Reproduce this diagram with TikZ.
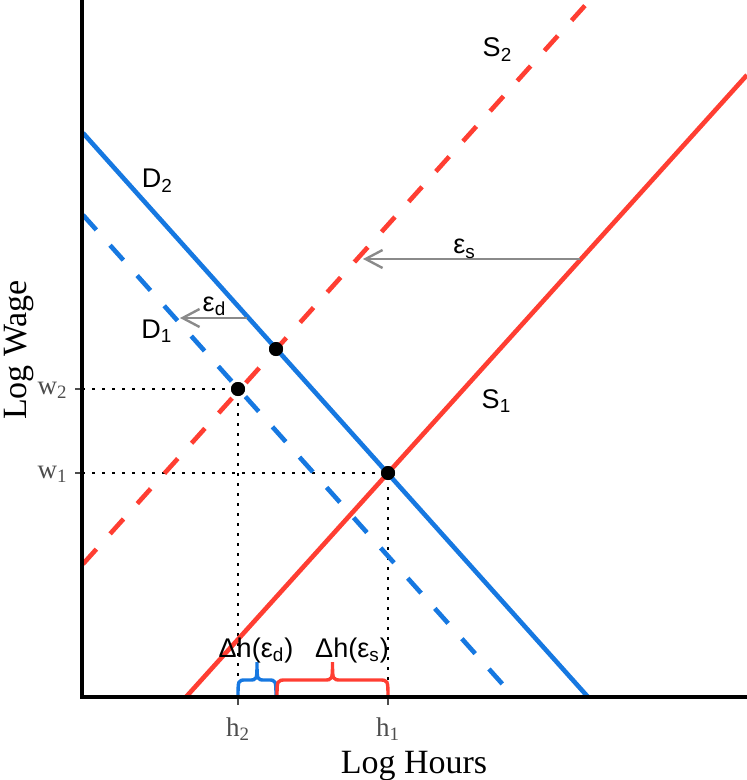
\documentclass[tikz,border=0pt]{standalone}
\usepackage{fontspec}
\setmainfont{Liberation Serif}
\setsansfont{Liberation Sans}
\usepackage{xcolor}
\usepackage{tikz}
\usetikzlibrary{arrows.meta, positioning, calc}

\definecolor{supred}{RGB}{255,62,50}
\definecolor{demblue}{RGB}{22,120,225}
\definecolor{tickgray}{RGB}{77,77,77}
\definecolor{shiftgray}{RGB}{138,138,138}

\begin{document}
\begin{tikzpicture}[x=0.5pt, y=-0.5pt,
        axisline/.style={line width=1.6pt, black},
        curve/.style={line width=2.3pt},
        shifted/.style={curve, dash pattern=on 10pt off 10.3pt},
        guide/.style={line width=1.3pt, black, dash pattern=on 1.3pt off 3.7pt},
        eqpt/.style={circle, fill=black, inner sep=0pt, minimum size=7pt},
        tickmark/.style={line width=1.1pt, tickgray},
        ticklbl/.style={font=\fontsize{13.5}{16}\selectfont, text=tickgray, inner sep=0pt},
        lbl/.style={font=\sffamily\fontsize{13.5}{16}\selectfont, inner sep=0pt, anchor=base},
        shiftarrow/.style={line width=1.2pt, shiftgray, -{Straight Barb[length=8.5pt, width=9pt]}},
        bracepath/.style={line width=1.7pt}
    ]
        \useasboundingbox (0,0) rectangle (747,780);

        % Axis points
        \coordinate (origin) at (82,697);
        \coordinate (ytop) at (82,0);
        \coordinate (xend) at (747,697);
        \coordinate (w2tick) at (82,389);
        \coordinate (w1tick) at (82,473);
        \coordinate (h2tick) at (238,697);
        \coordinate (h1tick) at (388,697);

        % Curve ends
        \coordinate (s1a) at (186,697);
        \coordinate (s1b) at (747,75);
        \coordinate (s2a) at (83,564);
        \coordinate (s2b) at (590,0);
        \coordinate (d2a) at (83,133);
        \coordinate (d2b) at (588,697);
        \coordinate (d1a) at (83,215);
        \coordinate (d1b) at (514,697);

        % Equilibria
        \node[eqpt] (eq1) at (388,473) {};
        \node[eqpt] (eq2) at (238,389) {};
        \node[eqpt] (eqx) at (276,349) {};

        % Guides
        \draw[guide] (w2tick) -- (eq2.center) -- (h2tick);
        \draw[guide] (w1tick) -- (eq1.center) -- (h1tick);

        % Curves
        \draw[curve, demblue] (d2a) -- (d2b);
        \draw[shifted, demblue] (d1a) -- (d1b);
        \draw[curve, supred] (s1a) -- (s1b);
        \draw[shifted, supred] (s2a) -- (s2b);

        \node[eqpt] at (eq1) {};
        \node[eqpt] at (eq2) {};
        \node[eqpt] at (eqx) {};

        % Shifts
        \coordinate (es-tail) at (580,259);
        \coordinate (es-tip) at (363,259);
        \coordinate (ed-tail) at (247,318);
        \coordinate (ed-tip) at (180,318);
        \draw[shiftarrow] (es-tail) -- (es-tip);
        \draw[shiftarrow] (ed-tail) -- (ed-tip);

        % Braces
        \draw[bracepath, demblue] (238,698) .. controls (238,680) .. (246,680) -- (249,680)
            .. controls (257,680) .. (257,662) .. controls (257,680) .. (265,680) -- (268,680)
            .. controls (276,680) .. (276,698);
        \draw[bracepath, supred] (277,698) .. controls (277,680) .. (286,680) -- (323.5,680)
            .. controls (332.5,680) .. (332.5,662) .. controls (332.5,680) .. (341.5,680) -- (379,680)
            .. controls (388,680) .. (388,698);

        % Labels
        \node[lbl] (d2lbl) at (157.5,188) {D\textsubscript{2}};
        \node[lbl] (d1lbl) at (157,338) {D\textsubscript{1}};
        \node[lbl] (s2lbl) at (497.5,57) {S\textsubscript{2}};
        \node[lbl] (s1lbl) at (496.5,408) {S\textsubscript{1}};
        \node[lbl] (eslbl) at (464.5,254) {ε\textsubscript{s}};
        \node[lbl] (edlbl) at (214.5,311) {ε\textsubscript{d}};
        \node[lbl] (dhd) at (256,657) {Δh(ε\textsubscript{d})};
        \node[lbl] (dhs) at (352,657) {Δh(ε\textsubscript{s})};

        % Axes
        \draw[tickmark] (w2tick) -- ++(-7,0);
        \draw[tickmark] (w1tick) -- ++(-7,0);
        \draw[tickmark] (h2tick) -- ++(0,8);
        \draw[tickmark] (h1tick) -- ++(0,8);
        \draw[axisline] (ytop) -- (origin) -- (xend);

        \node[ticklbl, anchor=base east] (w2lbl) at (68,394) {w\textsubscript{2}};
        \node[ticklbl, anchor=base east] (w1lbl) at (68,478) {w\textsubscript{1}};
        \node[ticklbl, anchor=north] (h2lbl) at (238,717) {h\textsubscript{2}};
        \node[ticklbl, anchor=north] (h1lbl) at (388,717) {h\textsubscript{1}};

        \node[font=\fontsize{17}{20}\selectfont, anchor=base, inner sep=0pt] (xlab) at (414,773) {Log Hours};
        \node[font=\fontsize{17}{20}\selectfont, rotate=90, inner sep=0pt] (ylab) at (19,350) {Log Wage};

    \end{tikzpicture}
\end{document}
